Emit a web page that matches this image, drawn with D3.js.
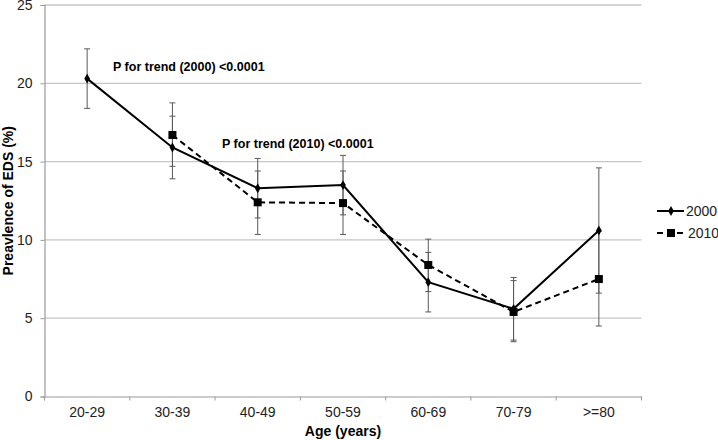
<!DOCTYPE html>
<html>
<head>
<meta charset="utf-8">
<script src="https://cdn.jsdelivr.net/npm/d3@7"></script>
<style>
  body { margin: 0; background: #fff; }
  svg { display: block; font-family: "Liberation Sans", Arial, Helvetica, sans-serif; }
</style>
</head>
<body>
<svg id="chart" width="718" height="440"></svg>
<script>
const categories = ["20-29", "30-39", "40-49", "50-59", "60-69", "70-79", ">=80"];
const yTicks = [0, 5, 10, 15, 20, 25];

const values2000 = [20.3, 15.9, 13.3, 13.5, 7.3, 5.6, 10.6];
const lower2000  = [18.4, 13.9, 11.4, 11.6, 5.4, 3.6, 6.6];
const upper2000  = [22.2, 17.9, 15.2, 15.4, 9.2, 7.6, 14.6];

const values2010 = [null, 16.7, 12.4, 12.35, 8.4, 5.4, 7.5];
const lower2010  = [null, 14.7, 10.35, 10.35, 6.7, 3.5, 4.5];
const upper2010  = [null, 18.75, 14.4, 14.4, 10.05, 7.4, 10.55];

const seriesNames = ["2000", "2010"];
const annotations = ["P for trend (2000) <0.0001", "P for trend (2010) <0.0001"];

(function () {
const svg = d3.select("#chart");
const mLeft = 44.5, mRight = 641.5, mTop = 5, mBottom = 396.5;

const x = d3.scaleBand().domain(categories).range([mLeft, mRight]);
const y = d3.scaleLinear().domain([0, 25]).range([mBottom, mTop]);

// gridlines
svg.append("g").selectAll("line").data(yTicks.filter(d => d > 0)).join("line")
  .attr("x1", mLeft).attr("x2", mRight)
  .attr("y1", d => y(d)).attr("y2", d => y(d))
  .attr("stroke", "#c6c6c6").attr("stroke-width", 1.3);

// y axis
const yAxis = d3.axisLeft(y).tickValues(yTicks).tickSize(4).tickPadding(8);
const gy = svg.append("g").attr("transform", `translate(${mLeft},0)`).call(yAxis);
gy.select(".domain").attr("stroke", "#9a9a9a").attr("stroke-width", 1.2);
gy.selectAll(".tick line").attr("stroke", "#9a9a9a");
gy.selectAll(".tick text").attr("font-size", 14).attr("fill", "#222")
  .attr("font-family", "'Liberation Sans', Arial, sans-serif");

// x axis
const xAxis = d3.axisBottom(x).tickSize(0).tickPadding(11);
const gx = svg.append("g").attr("transform", `translate(0,${mBottom})`).call(xAxis);
gx.select(".domain").attr("stroke", "#9a9a9a").attr("stroke-width", 1.2);
gx.selectAll(".tick text").attr("font-size", 14).attr("fill", "#222")
  .attr("font-family", "'Liberation Sans', Arial, sans-serif");
// boundary tick marks
const bounds = categories.map(c => x(c)).concat([x(categories[categories.length - 1]) + x.bandwidth()]);
svg.append("g").selectAll("line").data(bounds).join("line")
  .attr("x1", d => d).attr("x2", d => d)
  .attr("y1", mBottom).attr("y2", mBottom + 4)
  .attr("stroke", "#9a9a9a").attr("stroke-width", 1);

const cx = c => x(c) + x.bandwidth() / 2;

// error bars
function errorBars(vals, lo, hi) {
  const g = svg.append("g");
  categories.forEach((c, i) => {
    if (vals[i] == null) return;
    const xx = cx(c);
    g.append("line").attr("x1", xx).attr("x2", xx).attr("y1", y(lo[i])).attr("y2", y(hi[i]))
      .attr("stroke", "#5a5a5a").attr("stroke-width", 1);
    [lo[i], hi[i]].forEach(v => {
      g.append("line").attr("x1", xx - 3).attr("x2", xx + 3).attr("y1", y(v)).attr("y2", y(v))
        .attr("stroke", "#5a5a5a").attr("stroke-width", 1);
    });
  });
}
errorBars(values2010, lower2010, upper2010);
errorBars(values2000, lower2000, upper2000);

const line = d3.line().defined(d => d.v != null).x(d => cx(d.c)).y(d => y(d.v));
const d2000 = categories.map((c, i) => ({ c, v: values2000[i] }));
const d2010 = categories.map((c, i) => ({ c, v: values2010[i] }));

svg.append("path").datum(d2010).attr("d", line).attr("fill", "none")
  .attr("stroke", "#000").attr("stroke-width", 2).attr("stroke-dasharray", "6,4");
svg.append("path").datum(d2000).attr("d", line).attr("fill", "none")
  .attr("stroke", "#000").attr("stroke-width", 2);

const diamond = d3.symbol().type(d3.symbolDiamond).size(28);
svg.append("g").selectAll("rect").data(d2010.filter(d => d.v != null)).join("rect")
  .attr("x", d => cx(d.c) - 4).attr("y", d => y(d.v) - 4)
  .attr("width", 8).attr("height", 8).attr("fill", "#000");
svg.append("g").selectAll("path").data(d2000).join("path")
  .attr("d", diamond).attr("transform", d => `translate(${cx(d.c)},${y(d.v)})`).attr("fill", "#000");

// annotations
svg.append("text").attr("x", 113).attr("y", 71).attr("font-size", 12.5).attr("font-weight", "bold")
  .attr("fill", "#000").text(annotations[0]);
svg.append("text").attr("x", 222).attr("y", 147.5).attr("font-size", 12.5).attr("font-weight", "bold")
  .attr("fill", "#000").text(annotations[1]);

// axis titles
svg.append("text").attr("x", (mLeft + mRight) / 2).attr("y", 436).attr("text-anchor", "middle")
  .attr("font-size", 14).attr("font-weight", "bold").text("Age (years)");
svg.append("text").attr("transform", `translate(13,${(mTop + mBottom) / 2}) rotate(-90)`)
  .attr("text-anchor", "middle").attr("font-size", 14).attr("font-weight", "bold")
  .text("Preavlence of EDS (%)");

// legend
const lg = svg.append("g");
lg.append("line").attr("x1", 657).attr("x2", 684).attr("y1", 211).attr("y2", 211)
  .attr("stroke", "#000").attr("stroke-width", 2);
lg.append("path").attr("d", diamond).attr("transform", "translate(671,211)").attr("fill", "#000");
lg.append("text").attr("x", 686).attr("y", 216).attr("font-size", 14).attr("fill", "#222").text(seriesNames[0]);
lg.append("line").attr("x1", 657).attr("x2", 684).attr("y1", 233).attr("y2", 233)
  .attr("stroke", "#000").attr("stroke-width", 2).attr("stroke-dasharray", "6,4");
lg.append("rect").attr("x", 667).attr("y", 229).attr("width", 8).attr("height", 8).attr("fill", "#000");
lg.append("text").attr("x", 688).attr("y", 238).attr("font-size", 14).attr("fill", "#222").text(seriesNames[1]);
})();
</script>
</body>
</html>
